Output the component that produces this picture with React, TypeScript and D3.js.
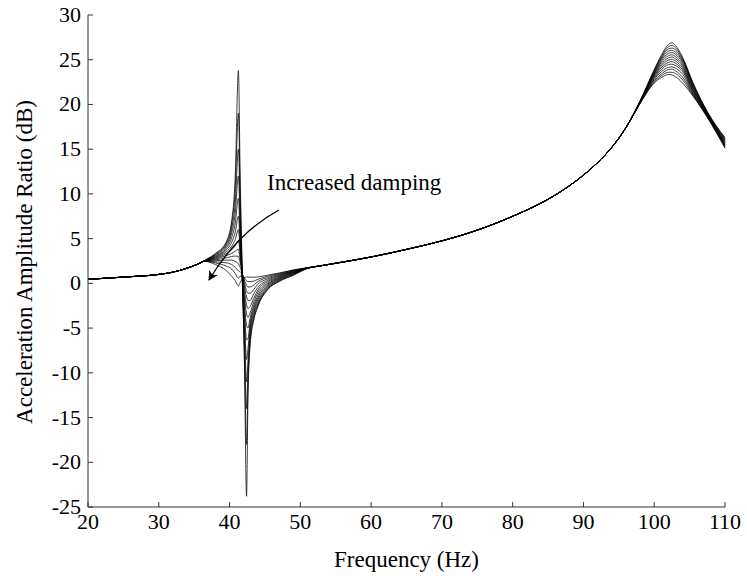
import React from "react";
import * as d3 from "d3";

// ---- Data ----
const xTicks = [20, 30, 40, 50, 60, 70, 80, 90, 100, 110];
const yTicks = [-25, -20, -15, -10, -5, 0, 5, 10, 15, 20, 25, 30];

// Frequencies where all curves coincide (low end)
const sharedStartFreq = [20, 25, 30, 32, 34, 35.5];
const sharedStartDb = [0.45, 0.7, 1.0, 1.25, 1.7, 2.15];

// First resonance / anti-resonance region, one row per damping value
const fanLowFreq = [36.5, 38, 39.5, 40.3, 40.8, 41.25, 41.5, 41.8, 42.1, 42.4, 42.6, 42.9, 43.4, 44, 45.4, 47, 49, 51];
const fanLowDb: number[][] = [
  [2.58, 3.35, 4.6, 7.0, 12.0, 23.8, 12, 1.5, -9, -23.8, -13, -7, -4.2, -2.6, -0.7, 0.2, 0.9, 1.66],
  [2.57, 3.27, 4.45, 6.6, 10.5, 19.0, 10, 0.5, -8, -18, -11.5, -6.5, -4.0, -2.5, -0.65, 0.25, 0.95, 1.67],
  [2.56, 3.19, 4.28, 6.1, 9.0, 15.0, 8, 0.3, -6.5, -14, -10, -6, -3.7, -2.3, -0.55, 0.32, 1.0, 1.68],
  [2.55, 3.11, 4.1, 5.6, 7.8, 12.0, 6.5, 0.4, -5, -11, -8.6, -5.4, -3.4, -2.1, -0.45, 0.4, 1.05, 1.69],
  [2.54, 3.03, 3.9, 5.1, 6.7, 9.5, 5.3, 0.6, -3.8, -8.5, -7.3, -4.9, -3.1, -1.85, -0.32, 0.47, 1.1, 1.7],
  [2.53, 2.95, 3.7, 4.6, 5.7, 7.5, 4.4, 0.8, -2.9, -6.3, -6.2, -4.4, -2.8, -1.6, -0.2, 0.55, 1.15, 1.71],
  [2.52, 2.87, 3.5, 4.15, 4.9, 6.0, 3.7, 1.0, -2.1, -4.7, -5.0, -3.9, -2.5, -1.35, -0.08, 0.62, 1.2, 1.72],
  [2.52, 2.79, 3.3, 3.75, 4.2, 4.8, 3.2, 1.1, -1.4, -3.4, -3.8, -3.3, -2.1, -1.05, 0.05, 0.7, 1.25, 1.72],
  [2.51, 2.7, 3.1, 3.35, 3.6, 3.8, 2.7, 1.2, -0.8, -2.4, -2.8, -2.6, -1.7, -0.75, 0.2, 0.78, 1.3, 1.73],
  [2.5, 2.62, 2.85, 3.0, 3.05, 3.0, 2.3, 1.2, -0.3, -1.5, -1.9, -1.9, -1.2, -0.45, 0.35, 0.86, 1.34, 1.73],
  [2.49, 2.52, 2.6, 2.6, 2.45, 2.2, 1.8, 1.1, 0.1, -0.8, -1.1, -1.1, -0.7, -0.1, 0.5, 0.94, 1.38, 1.74],
  [2.48, 2.4, 2.3, 2.1, 1.8, 1.4, 1.3, 1.0, 0.4, -0.2, -0.4, -0.4, -0.2, 0.2, 0.65, 1.02, 1.42, 1.74],
  [2.47, 2.28, 1.95, 1.6, 1.1, 0.6, 0.8, 0.8, 0.6, 0.3, 0.2, 0.2, 0.25, 0.45, 0.8, 1.1, 1.47, 1.75],
  [2.46, 2.1, 1.45, 0.8, 0.3, -0.3, 0.1, 0.5, 0.65, 0.7, 0.7, 0.7, 0.68, 0.72, 0.92, 1.16, 1.5, 1.75],
];

// Middle range where all curves coincide
const sharedMidFreq = [53, 55, 60, 65, 70, 75, 80, 85, 88, 90, 92, 94, 96];
const sharedMidDb = [1.98, 2.25, 2.95, 3.8, 4.75, 5.95, 7.5, 9.4, 10.9, 12.1, 13.5, 15.2, 17.4];

// Second resonance region, one row per damping value
const fanHighFreq = [98, 100, 101, 102, 102.5, 103, 104, 105.5, 107.5, 110];
const fanHighDb: number[][] = [
  [20.4, 23.9, 25.5, 26.7, 26.9, 26.6, 25.3, 22.4, 19.2, 16.3],
  [20.38, 23.8, 25.35, 26.45, 26.6, 26.35, 25.15, 22.3, 19.15, 16.2],
  [20.35, 23.7, 25.2, 26.2, 26.3, 26.1, 25.0, 22.2, 19.1, 16.1],
  [20.33, 23.6, 25.05, 25.95, 26.05, 25.85, 24.85, 22.1, 19.05, 16.0],
  [20.3, 23.5, 24.9, 25.7, 25.8, 25.6, 24.7, 21.95, 19.0, 15.9],
  [20.28, 23.4, 24.7, 25.45, 25.55, 25.35, 24.5, 21.85, 18.95, 15.8],
  [20.26, 23.3, 24.5, 25.2, 25.3, 25.1, 24.3, 21.7, 18.9, 15.7],
  [20.24, 23.2, 24.3, 24.95, 25.05, 24.85, 24.1, 21.6, 18.85, 15.6],
  [20.22, 23.05, 24.1, 24.7, 24.8, 24.6, 23.9, 21.45, 18.8, 15.5],
  [20.2, 22.9, 23.9, 24.45, 24.5, 24.35, 23.7, 21.35, 18.75, 15.45],
  [20.18, 22.8, 23.65, 24.15, 24.2, 24.05, 23.4, 21.2, 18.7, 15.4],
  [20.15, 22.65, 23.4, 23.9, 23.95, 23.75, 23.05, 21.1, 18.65, 15.3],
  [20.12, 22.5, 23.2, 23.6, 23.6, 23.45, 22.75, 21.0, 18.6, 15.2],
  [20.1, 22.4, 23.0, 23.35, 23.3, 23.1, 22.4, 20.9, 18.55, 15.1],
];

const xLabel = "Frequency (Hz)";
const yLabel = "Acceleration Amplitude Ratio (dB)";
const annotation = "Increased damping";

// ---- Layout ----
const W = 747;
const H = 576;
const X0 = 88;
const X1 = 725;
const Y0 = 507;
const Y1 = 15;
const FONT = "Liberation Serif, Times New Roman, serif";

export default function App() {
  const x = d3.scaleLinear().domain([20, 110]).range([X0, X1]);
  const y = d3.scaleLinear().domain([-25, 30]).range([Y0, Y1]);

  const freqs = [...sharedStartFreq, ...fanLowFreq, ...sharedMidFreq, ...fanHighFreq];
  const curves = fanLowDb.map((low, k) => {
    const db = [...sharedStartDb, ...low, ...sharedMidDb, ...fanHighDb[k]];
    return freqs.map((f, i) => [f, db[i]] as [number, number]);
  });

  const line = d3
    .line<[number, number]>()
    .x((d) => x(d[0]))
    .y((d) => y(d[1]))
    .curve(d3.curveMonotoneX);

  const axisColor = "#333";
  const textStyle = { fontFamily: FONT };

  return (
    <svg
      width={W}
      height={H}
      style={{ position: "absolute", left: 0, top: 0, background: "#fff" }}
    >
      <defs>
        <marker
          id="arrowHead"
          viewBox="0 0 10 10"
          refX="9"
          refY="5"
          markerWidth="10"
          markerHeight="10"
          markerUnits="userSpaceOnUse"
          orient="auto"
        >
          <path d="M0,0 L10,5 L0,10 L3,5 z" fill="#000" />
        </marker>
      </defs>
      <rect x={0} y={0} width={W} height={H} fill="#fff" />

      {/* curves */}
      <g fill="none" stroke="#000" strokeWidth={0.75}>
        {curves.map((c, i) => (
          <path key={i} d={line(c) || ""} />
        ))}
      </g>

      {/* axes */}
      <line x1={X0} y1={Y1} x2={X0} y2={Y0} stroke={axisColor} strokeWidth={1} />
      <line x1={X0} y1={Y0} x2={X1} y2={Y0} stroke={axisColor} strokeWidth={1} />
      {yTicks.map((t) => (
        <g key={"y" + t}>
          <line x1={X0} x2={X0 + 5} y1={y(t)} y2={y(t)} stroke={axisColor} strokeWidth={1} />
          <text x={X0 - 7} y={y(t) + 7} textAnchor="end" fontSize={22} fill="#000" style={textStyle}>
            {t}
          </text>
        </g>
      ))}
      {xTicks.map((t) => (
        <g key={"x" + t}>
          <line x1={x(t)} x2={x(t)} y1={Y0} y2={Y0 - 5} stroke={axisColor} strokeWidth={1} />
          <text x={x(t)} y={Y0 + 22} textAnchor="middle" fontSize={22} fill="#000" style={textStyle}>
            {t}
          </text>
        </g>
      ))}

      {/* axis labels */}
      <text x={(X0 + X1) / 2} y={567} textAnchor="middle" fontSize={23} fill="#000" style={textStyle}>
        {xLabel}
      </text>
      <text
        transform={`translate(32, 262) rotate(-90)`}
        textAnchor="middle"
        fontSize={23}
        fill="#000"
        style={textStyle}
      >
        {yLabel}
      </text>

      {/* annotation */}
      <text x={267} y={190} fontSize={23} fill="#000" style={textStyle}>
        {annotation}
      </text>
      <path
        d="M279,210 Q238,232 209,280"
        fill="none"
        stroke="#000"
        strokeWidth={1.3}
        markerEnd="url(#arrowHead)"
      />
    </svg>
  );
}
